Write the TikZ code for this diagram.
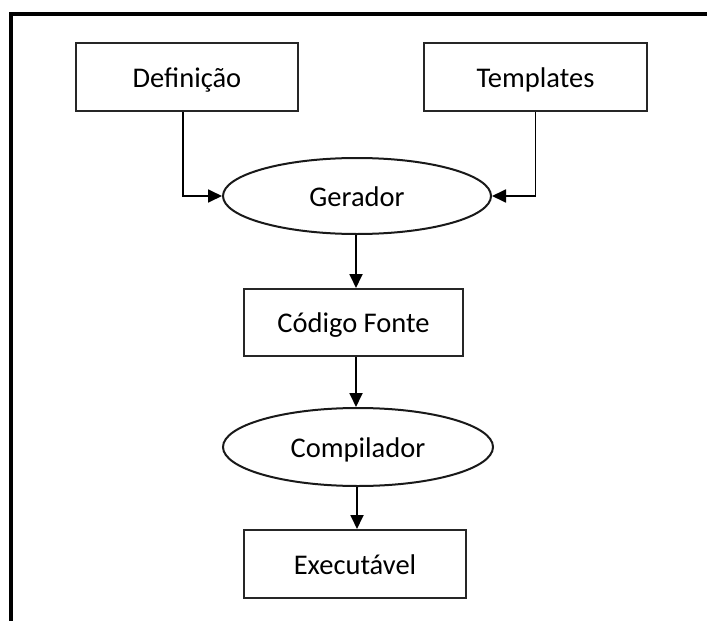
\documentclass[tikz,border=0pt]{standalone}
\usepackage{fontspec}
\setmainfont{Carlito}
\usetikzlibrary{shapes.geometric,arrows.meta}
\begin{document}
\begin{tikzpicture}[x=1pt,y=-1pt,
  every node/.style={font=\fontsize{28.5}{34}\selectfont, inner sep=0pt,
    text height=22pt, text depth=2pt},
  procbox/.style={draw=black!85, line width=2pt, rectangle},
  procoval/.style={draw=black!90, line width=2pt, ellipse},
  arr/.style={line width=1.8pt, -{Triangle[length=14pt,width=13pt]}},
  frameline/.style={line width=3.2pt, black}]
  \useasboundingbox (0,0) rectangle (707,621);
  % outer frame (top and left edges)
  \draw[frameline] (707,14) -- (11,14) -- (11,621);
  % nodes
  \node[procbox, minimum width=222pt, minimum height=68pt] (def) at (187,77) {Definição};
  \node[procbox, minimum width=223pt, minimum height=68pt] (tpl) at (535.5,77) {Templates};
  \node[procoval, minimum width=268pt, minimum height=76pt] (gen) at (357,196) {Gerador};
  \node[procbox, minimum width=219pt, minimum height=67pt] (src) at (353.5,322.5) {Código Fonte};
  \node[procoval, minimum width=270pt, minimum height=78pt] (cmp) at (358,447) {Compilador};
  \node[procbox, minimum width=222pt, minimum height=68pt] (exe) at (355,564) {Executável};
  % connectors
  \draw[arr] ([xshift=-4pt]def.south) |- (gen.west);
  \draw[arr] (tpl.south) |- (gen.east);
  \draw[arr] ([xshift=-1pt]gen.south) -- ([xshift=-1pt]gen.south |- src.north);
  \draw[arr] ([xshift=-2pt]cmp.north |- src.south) -- ([xshift=-2pt]cmp.north);
  \draw[arr] ([xshift=-1pt]cmp.south) -- ([xshift=-1pt]cmp.south |- exe.north);
\end{tikzpicture}
\end{document}
